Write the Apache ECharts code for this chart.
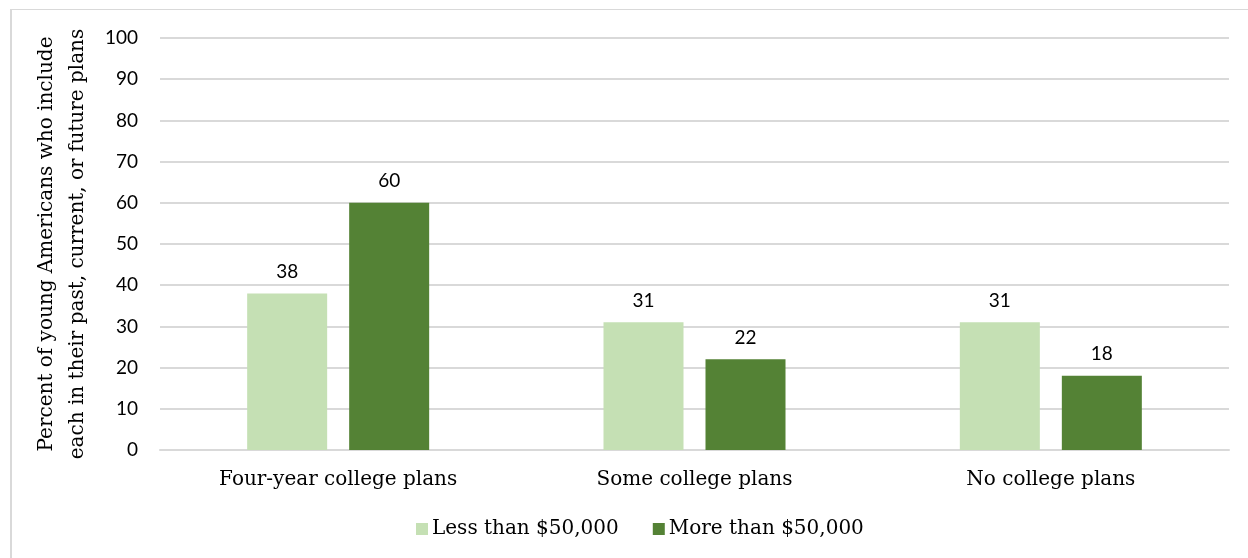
<!DOCTYPE html>
<html>
<head>
<meta charset="utf-8">
<script src="https://cdn.jsdelivr.net/npm/echarts@6/dist/echarts.min.js"></script>
<style>
html,body{margin:0;padding:0;background:#fff;}
#frame{position:absolute;left:10px;top:9px;width:1240px;height:560px;border-left:2px solid #d9d9d9;border-top:1px solid #d9d9d9;box-sizing:border-box;}
#chart{position:absolute;left:0;top:0;width:1248px;height:558px;}
</style>
</head>
<body>
<div id="frame"></div>
<div id="chart"></div>
<script>
const categories = ['Four-year college plans', 'Some college plans', 'No college plans'];
const seriesNames = ['Less than $50,000', 'More than $50,000'];
const lessThan50k = [38, 31, 31];
const moreThan50k = [60, 22, 18];
const yTicks = [0, 10, 20, 30, 40, 50, 60, 70, 80, 90, 100];
const yAxisTitle = 'Percent of young Americans who include\neach in their past, current, or future plans';

const serif = '"DejaVu Serif", serif';
const sans = 'Lato, "Liberation Sans", sans-serif';

const chart = echarts.init(document.getElementById('chart'), null, {renderer: 'canvas'});
const labelStyle = {show: true, position: 'top', distance: 12, fontFamily: sans, fontSize: 19, color: '#000'};
chart.setOption({
  animation: false,
  grid: {left: 160, right: 19, top: 38, bottom: 108, outerBoundsMode: 'none', containLabel: false},
  legend: {
    data: seriesNames,
    bottom: 14,
    left: 411,
    itemWidth: 12, itemHeight: 12, itemGap: 34,
    icon: 'rect',
    textStyle: {fontFamily: serif, fontSize: 20, color: '#000', padding: [0, 0, 0, -1]}
  },
  xAxis: {
    type: 'category',
    data: categories,
    axisLine: {lineStyle: {color: '#d9d9d9', width: 2}},
    axisTick: {show: false},
    axisLabel: {fontFamily: serif, fontSize: 20, color: '#000', margin: 20}
  },
  yAxis: {
    type: 'value',
    min: yTicks[0], max: yTicks[yTicks.length - 1], interval: 10,
    name: yAxisTitle,
    nameLocation: 'middle',
    nameRotate: 90,
    nameGap: 67,
    nameTextStyle: {fontFamily: serif, fontSize: 20, color: '#000', lineHeight: 31},
    axisLine: {show: false},
    axisTick: {show: false},
    splitLine: {lineStyle: {color: '#d9d9d9', width: 2}},
    axisLabel: {fontFamily: sans, fontSize: 19, color: '#000', margin: 22}
  },
  series: [
    {name: seriesNames[0], type: 'bar', data: lessThan50k, barWidth: 80, barGap: '27.5%',
     itemStyle: {color: '#c5e0b4'}, label: labelStyle},
    {name: seriesNames[1], type: 'bar', data: moreThan50k, barWidth: 80, barGap: '27.5%',
     itemStyle: {color: '#548235'}, label: labelStyle}
  ]
});
</script>
</body>
</html>
